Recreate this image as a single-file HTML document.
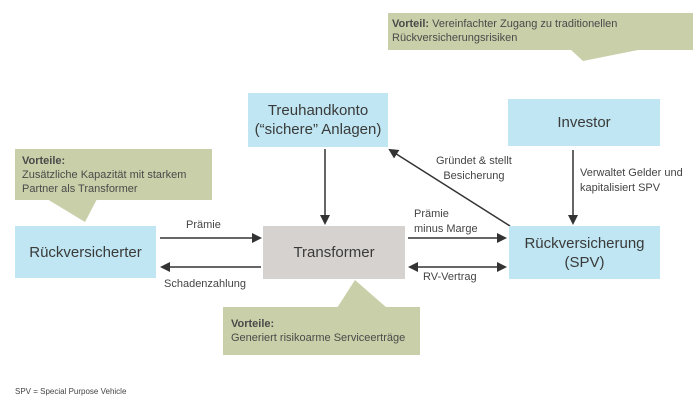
<!DOCTYPE html>
<html><head><meta charset="utf-8"><style>
body{margin:0;width:700px;height:402px;background:#fff;position:relative;overflow:hidden;font-family:"Liberation Sans",sans-serif;color:#3a3a3a}
.b{position:absolute;display:flex;align-items:center;justify-content:center;text-align:center;font-size:15px;line-height:19px}
.blue{background:#bfe6f2}
.t{position:absolute;font-size:11px;line-height:15px;color:#444}
.c{position:absolute;background:#c9cfa8;font-size:11px;line-height:14px;color:#4a4a4a;padding:6px 8px;box-sizing:border-box}
</style></head><body>
<svg width="700" height="402" style="position:absolute;left:0;top:0">
<defs><marker id="a" markerWidth="10" markerHeight="10" refX="8" refY="5" orient="auto-start-reverse" markerUnits="userSpaceOnUse"><path d="M0,0 L10,5 L0,10 Z" fill="#333"/></marker></defs>
<polygon points="570,49 583,61 643,49" fill="#c9cfa8"/>
<polygon points="47,199 85,222 97,199" fill="#c9cfa8"/>
<polygon points="337,308 355,280 387,308" fill="#c9cfa8"/>
<g stroke="#333" stroke-width="1.5" fill="none">
<line x1="160" y1="238" x2="260" y2="238" marker-end="url(#a)"/>
<line x1="261" y1="267" x2="162" y2="267" marker-end="url(#a)"/>
<line x1="408" y1="238" x2="505" y2="238" marker-end="url(#a)"/>
<line x1="410" y1="267" x2="505" y2="267" marker-start="url(#a)" marker-end="url(#a)"/>
<line x1="325" y1="149" x2="325" y2="223" marker-end="url(#a)"/>
<line x1="573" y1="150" x2="573" y2="223" marker-end="url(#a)"/>
<line x1="510" y1="226" x2="390" y2="150" marker-end="url(#a)"/>
</g></svg>
<div class="c" style="left:388px;top:13px;width:305px;height:37px;padding:4px 4px"><b>Vorteil:</b> Vereinfachter Zugang zu traditionellen<br>Rückversicherungsrisiken</div>
<div class="c" style="left:15px;top:149px;width:197px;height:51px;padding:5px 7px"><b>Vorteile:</b><br>Zusätzliche Kapazität mit starkem<br>Partner als Transformer</div>
<div class="c" style="left:223px;top:307px;width:197px;height:48px;padding:10px 8px"><b>Vorteile:</b><br>Generiert risikoarme Serviceerträge</div>
<div class="b blue" style="left:248px;top:93px;width:140px;height:54px">Treuhandkonto<br>(“sichere” Anlagen)</div>
<div class="b blue" style="left:508px;top:99px;width:152px;height:47px">Investor</div>
<div class="b blue" style="left:15px;top:226px;width:141px;height:52px">Rückversicherter</div>
<div class="b" style="left:263px;top:226px;width:142px;height:53px;background:#d6d2cf">Transformer</div>
<div class="b blue" style="left:509px;top:226px;width:151px;height:53px">Rückversicherung<br>(SPV)</div>
<div class="t" style="left:186px;top:218px">Prämie</div>
<div class="t" style="left:164px;top:277px">Schadenzahlung</div>
<div class="t" style="left:414px;top:207px">Prämie<br>minus Marge</div>
<div class="t" style="left:423px;top:270px">RV-Vertrag</div>
<div class="t" style="left:436px;top:154px;text-align:center">Gründet &amp; stellt<br>Besicherung</div>
<div class="t" style="left:580px;top:166px">Verwaltet Gelder und<br>kapitalisiert SPV</div>
<div class="t" style="left:15px;top:384px;font-size:8px">SPV = Special Purpose Vehicle</div>
</body></html>
